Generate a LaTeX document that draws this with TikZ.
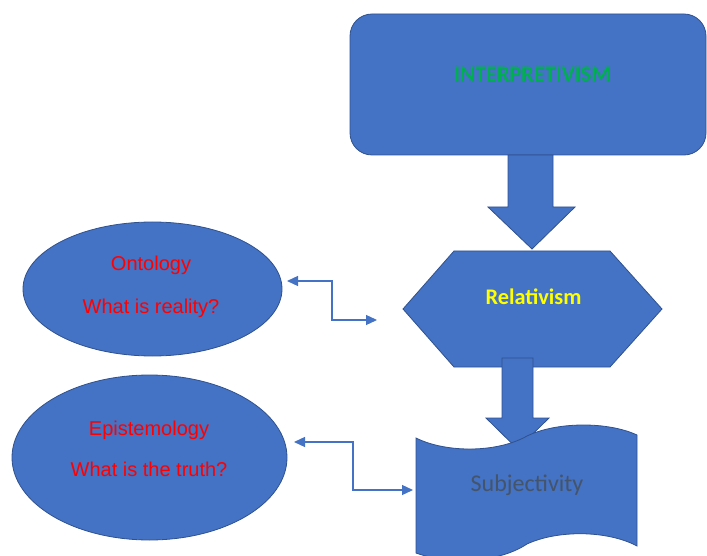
\documentclass[tikz,border=0pt]{standalone}
\usepackage{fontspec}
\usetikzlibrary{arrows.meta,calc}
\newfontfamily\calfont{Carlito}
\newfontfamily\arialfont{Liberation Sans}
\definecolor{shapeblue}{HTML}{4472C4}
\definecolor{edgeblue}{HTML}{2F528F}
\definecolor{txtgreen}{HTML}{00B050}
\definecolor{txtyellow}{HTML}{FFFF00}
\definecolor{txtred}{HTML}{FF0000}
\definecolor{txtslate}{HTML}{44546A}
\tikzset{
  shapefill/.style={fill=shapeblue, draw=edgeblue, line width=0.8pt},
  conn/.style={draw=shapeblue, line width=1.3pt, {Triangle[length=11pt,width=10pt]}-{Triangle[length=11pt,width=10pt]}},
  redtxt/.style={text=txtred, font=\arialfont\fontsize{20}{24}\selectfont, anchor=base, inner sep=0pt},
}
\begin{document}
\begin{tikzpicture}[x=1pt,y=-1pt]
\useasboundingbox (0,0) rectangle (707,556);
\clip (0,0) rectangle (707,556);
% top rounded rectangle
\draw[shapefill, rounded corners=22pt] (350,14) rectangle (706,155);
\node[anchor=base, inner sep=0pt, text=txtgreen, font=\calfont\bfseries\fontsize{22.3}{26}\selectfont] (interp) at (532.5,82) {INTERPRETIVISM};
% block arrow 1
\draw[shapefill] (508,155) -- (553,155) -- (553,207) -- (575,207) -- (532,249) -- (488,207) -- (508,207) -- cycle;
% hexagon
\draw[shapefill] (403,309) -- (454,251) -- (610,251) -- (662,309) -- (610,367) -- (454,367) -- cycle;
\node[anchor=base, inner sep=0pt, text=txtyellow, font=\calfont\bfseries\fontsize{22.3}{26}\selectfont] (relat) at (533.5,305) {Relativism};
% block arrow 2
\draw[shapefill] (502,358) -- (533,358) -- (533,418) -- (549,418) -- (517.5,449) -- (486,418) -- (502,418) -- cycle;
% punched tape (document)
\draw[shapefill] (416,438) .. controls (446,453) and (497,453) .. (527,436)
  .. controls (557,421.5) and (608,421.5) .. (637,435)
  -- (637,546) .. controls (607,530) and (557,530) .. (527,544)
  .. controls (497,564) and (446,564) .. (416,553) -- cycle;
\node[anchor=base, inner sep=0pt, text=txtslate, font=\calfont\fontsize{24}{28}\selectfont] (subj) at (527,491) {Subjectivity};
% ellipses
\draw[shapefill] (152.5,289) ellipse [x radius=129.5, y radius=67];
\node[redtxt] (onto) at (151,271) {Ontology};
\node[redtxt] (reality) at (151,313) {What is reality?};
\draw[shapefill] (149.5,457.5) ellipse [x radius=137.5, y radius=82.5];
\node[redtxt] (epist) at (149,435) {Epistemology};
\node[redtxt] (truth) at (149,476) {What is the truth?};
% connectors
\coordinate (c1a) at (287,281);
\coordinate (c1b) at (377,320);
\draw[conn] (c1a) -- ++(45,0) |- (c1b);
\coordinate (c2a) at (294,442);
\coordinate (c2b) at (413,490);
\draw[conn] (c2a) -- ++(59,0) |- (c2b);
\end{tikzpicture}
\end{document}
